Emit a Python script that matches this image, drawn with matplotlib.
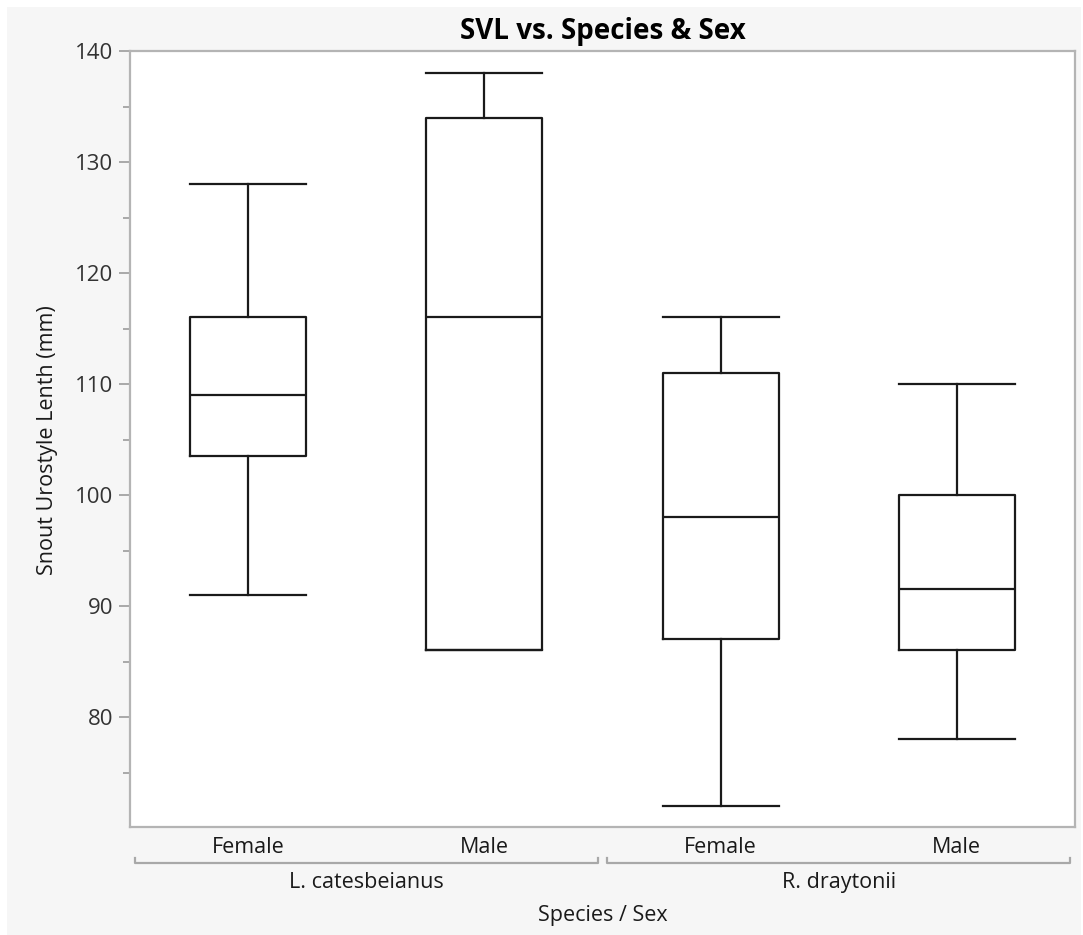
import matplotlib
matplotlib.use('Agg')
import matplotlib.pyplot as plt
from matplotlib.patches import Rectangle
from matplotlib.ticker import MultipleLocator

plt.rcParams['font.family'] = ['Open Sans', 'DejaVu Sans']

# five-number summaries per species / sex group
species = ["L. catesbeianus", "R. draytonii"]
sexes = ["Female", "Male", "Female", "Male"]
whisker_low = [91, 86, 72, 78]
q1 = [103.5, 86, 87, 86]
median = [109, 116, 98, 91.5]
q3 = [116, 134, 111, 100]
whisker_high = [128, 138, 116, 110]

stats = []
for lo, a, m, b, hi in zip(whisker_low, q1, median, q3, whisker_high):
    stats.append({"whislo": lo, "q1": a, "med": m, "q3": b, "whishi": hi, "fliers": []})

fig = plt.figure(figsize=(10.83, 9.35), dpi=100, facecolor="white")
fig.add_artist(Rectangle((7 / 1083, 0), 1074 / 1083, 928 / 935,
                         transform=fig.transFigure, facecolor="#f6f6f6",
                         edgecolor="none", zorder=-10))

ax = fig.add_axes([130 / 1083, 1 - 827 / 935, 945 / 1083, 776 / 935])
ax.set_facecolor("white")

line = dict(color="#1a1a1a", linewidth=1.6)
ax.bxp(stats, positions=[1, 2, 3, 4], widths=0.49, showfliers=False,
       boxprops=line, whiskerprops=line, capprops=line, medianprops=line,
       capwidths=0.49)

ax.set_xlim(0.5, 4.5)
ax.set_ylim(70.1, 140)
ax.yaxis.set_major_locator(MultipleLocator(10))
ax.yaxis.set_minor_locator(MultipleLocator(5))
ax.set_yticks([80, 90, 100, 110, 120, 130, 140])

for s in ax.spines.values():
    s.set_color("#b4b4b4")
    s.set_linewidth(1.6)

ax.tick_params(axis="y", which="major", length=8, width=1.4, color="#a8a8a8",
               labelsize=16, labelcolor="#333333", pad=4)
ax.tick_params(axis="y", which="minor", length=5, width=1.4, color="#a8a8a8")
ax.set_xticks([1, 2, 3, 4])
ax.set_xticklabels(sexes)
ax.tick_params(axis="x", length=0, labelsize=15.5, labelcolor="#1a1a1a", pad=7)

fig.text(48 / 1083, 1 - 440 / 935, "Snout Urostyle Lenth (mm)", rotation=90,
         ha="center", va="center", fontsize=15.5, color="#1a1a1a")
ax.text(0.5, 1.025, "SVL vs. Species & Sex", transform=ax.transAxes,
        ha="center", va="center", fontsize=20, fontweight="bold")

# species group brackets under the sex labels
tr = ax.get_xaxis_transform()
by = -0.0464
tick_h = 0.006
for (x0, x1), name in zip([(0.52, 2.48), (2.52, 4.48)], species):
    ax.plot([x0, x0, x1, x1], [by + tick_h, by, by, by + tick_h], transform=tr,
            color="#a8a8a8", linewidth=1.6, clip_on=False)
    ax.text((x0 + x1) / 2, -0.0715, name, transform=tr, ha="center", va="center",
            fontsize=15.5, color="#1a1a1a")

ax.text(0.5, -0.1145, "Species / Sex", transform=ax.transAxes, ha="center", va="center",
        fontsize=15.5, color="#1a1a1a")

fig.savefig("out.png", dpi=100, facecolor=fig.get_facecolor())
